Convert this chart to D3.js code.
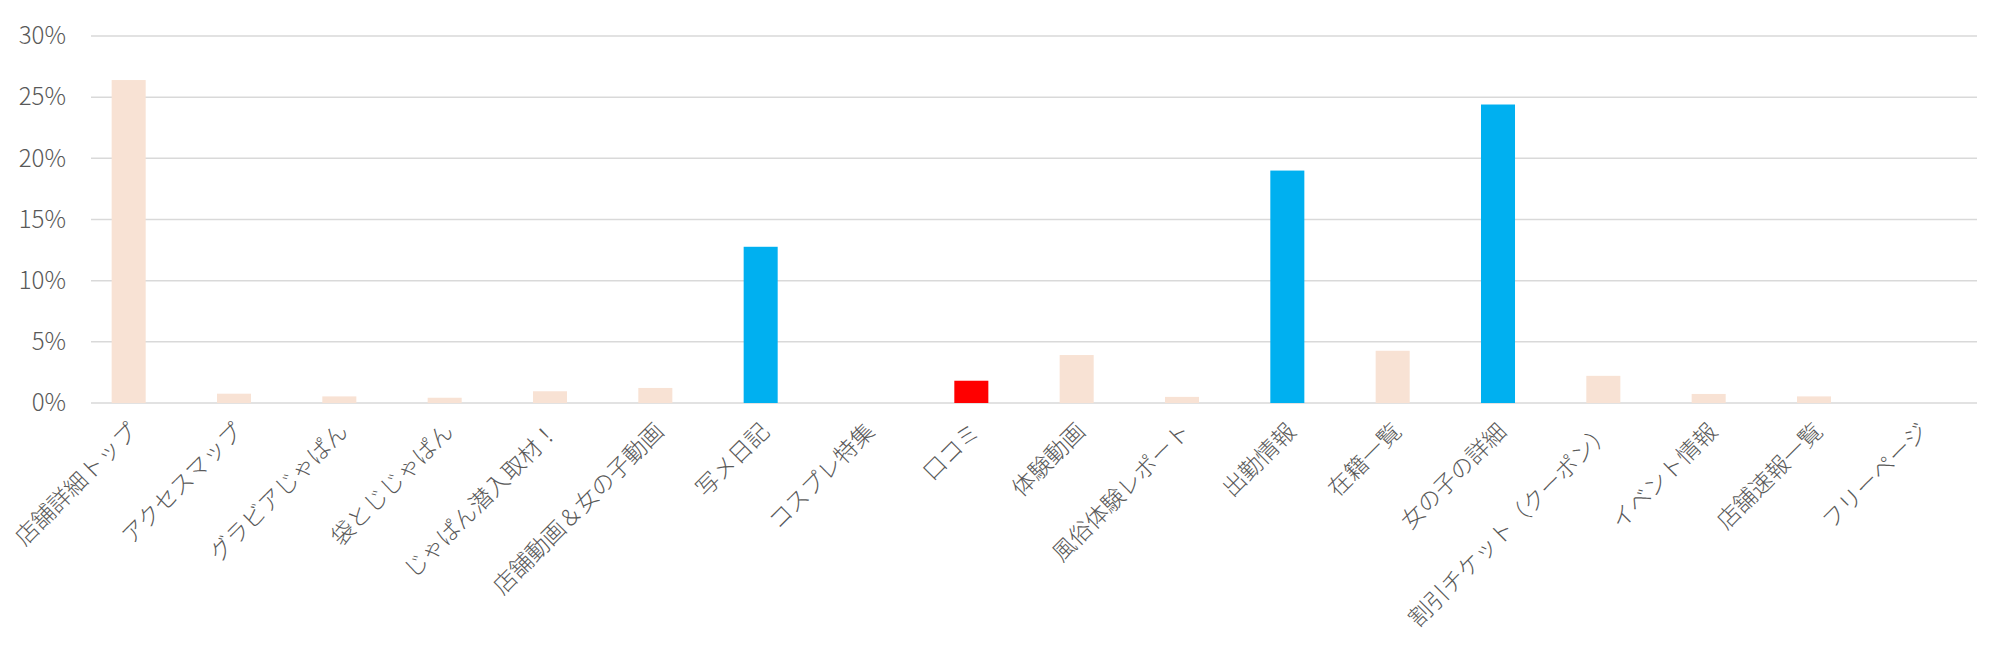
<!DOCTYPE html>
<html lang="ja">
<head>
    <meta charset="UTF-8">
    <script src="https://d3js.org/d3.v7.min.js"></script>
    <title>ページ別割合</title>
    <style>
        body { margin: 0; background: #fff; }
        text { font-family: "Noto Sans CJK JP", "Noto Sans", sans-serif; }
    </style>
</head>
<body>
    <svg width="2000" height="653" id="chart"></svg>
<script>
    // page names (x axis)
    var pages = ["店舗詳細トップ", "アクセスマップ", "グラビアじゃぱん", "袋とじじゃぱん", "じゃぱん潜入取材！",
        "店舗動画＆女の子動画", "写メ日記", "コスプレ特集", "口コミ", "体験動画", "風俗体験レポート",
        "出勤情報", "在籍一覧", "女の子の詳細", "割引チケット（クーポン）", "イベント情報", "店舗速報一覧", "フリーページ"];
    // share of views (%)
    var shares = [26.4, 0.76, 0.54, 0.43, 0.96, 1.23, 12.77, 0, 1.82, 3.92, 0.5, 19.0, 4.27, 24.4, 2.22, 0.74, 0.54, 0];
    // pages picked out in the chart
    var bluePages = ["写メ日記", "出勤情報", "女の子の詳細"];
    var redPages = ["口コミ"];
    var yTicks = [0, 5, 10, 15, 20, 25, 30];

    var svg = d3.select('#chart');

    var x = d3.scaleBand()
        .domain(pages)
        .range([76, 1972])
        .paddingInner(0.677)
        .paddingOuter(0.3385);

    var y = d3.scaleLinear()
        .domain([0, 30])
        .range([403, 36]);

    // gridlines
    svg.append('g')
        .selectAll('line')
        .data(yTicks)
        .enter().append('line')
        .attr('x1', 91)
        .attr('x2', 1977)
        .attr('y1', function(d){ return y(d); })
        .attr('y2', function(d){ return y(d); })
        .attr('stroke', '#d9d9d9')
        .attr('stroke-width', 1.5);

    // y axis labels
    var yAxis = d3.axisLeft(y)
        .tickValues(yTicks)
        .tickSize(0)
        .tickPadding(0)
        .tickFormat(function(d){ return d + '%'; });

    var yg = svg.append('g')
        .attr('transform', 'translate(66, 0)')
        .call(yAxis);
    yg.select('.domain').remove();
    yg.selectAll('text')
        .attr('fill', '#595959')
        .style('font-size', '24px')
        .style('font-weight', 300);

    function barColor(name){
        if (bluePages.indexOf(name) >= 0) return '#00b0f0';
        if (redPages.indexOf(name) >= 0) return '#ff0000';
        return '#f8e2d4';
    }

    svg.append('g')
        .selectAll('rect')
        .data(shares)
        .enter().append('rect')
        .attr('x', function(d, i){ return x(pages[i]); })
        .attr('y', function(d){ return y(d); })
        .attr('width', x.bandwidth())
        .attr('height', function(d){ return y(0) - y(d); })
        .attr('fill', function(d, i){ return barColor(pages[i]); });

    // x axis labels, rotated
    var xAxis = d3.axisBottom(x)
        .tickSize(0)
        .tickPadding(0);

    var xg = svg.append('g')
        .attr('transform', 'translate(0, 403)')
        .call(xAxis);
    xg.select('.domain').remove();
    xg.selectAll('text')
        .attr('fill', '#595959')
        .style('font-size', '23px')
        .style('font-weight', 300)
        .attr('text-anchor', 'end')
        .attr('dy', null)
        .attr('y', 0)
        .attr('transform', 'translate(10, 30) rotate(-45)');
</script>
</body>
</html>
